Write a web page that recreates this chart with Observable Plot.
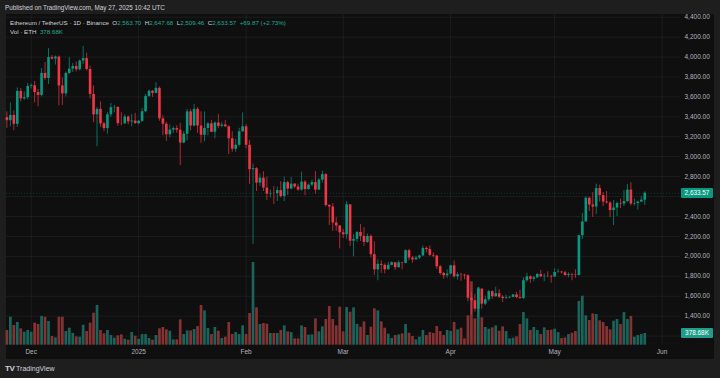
<!DOCTYPE html>
<html><head><meta charset="utf-8">
<script src="https://cdn.jsdelivr.net/npm/d3@7"></script>
<script src="https://cdn.jsdelivr.net/npm/@observablehq/plot@0.6"></script>
<style>
html,body{margin:0;padding:0;background:#1e1e1e;width:720px;height:378px;overflow:hidden;font-family:"Liberation Sans",Arial,sans-serif;}
#wrap{position:relative;width:720px;height:378px;}
#panel{position:absolute;left:6px;top:14px;width:708px;height:345px;background:#0f0f0f;}
#wrap svg{position:absolute;left:0;top:0;}
.t{position:absolute;white-space:nowrap;line-height:1;}
.hdr{left:5px;top:5px;font-size:6.3px;color:#d1d4dc;}
.leg{left:10px;font-size:6.2px;color:#d1d4dc;}
.v{color:#22ab94;}
.box{position:absolute;left:681px;width:32px;height:10px;line-height:10px;font-size:6.4px;color:#fff;text-align:center;border-radius:1px;}
.logo{left:5px;top:365px;font-size:7px;color:#d1d4dc;}
</style></head>
<body><div id="wrap"><div id="panel"></div></div>
<script>
// ETH/USDT daily, Binance, 2024-11-24 .. 2025-05-27
const startDate = "2024-11-24";
const open = [
 3392,3361,3414,3325,3655,3580,3592,
 3705,3712,3644,3615,3836,3785,3995,3980,4000,3710,3630,3836,3880,3905,3873,3960,3985,3875,3625,3420,3475,3330,3282,3420,3492,3495,3332,3330,3398,3350,3358,
 3332,3355,3452,3605,3657,3636,3686,3380,3326,3220,3268,3282,3266,3137,3226,3450,3308,3475,3308,3215,3283,3330,3245,3338,3305,3318,3300,3180,3075,3115,3250,
 3300,3115,2870,2880,2735,2785,2685,2625,2632,2630,2660,2600,2740,2675,2725,2695,2665,2745,2670,2715,2740,2665,2765,2820,2510,2495,2335,2305,
 2237,2217,2517,2152,2170,2240,2200,2140,2200,2017,1865,1920,1910,1865,1910,1935,1887,1935,1930,2057,1983,1965,1983,2004,2080,2068,2010,2003,1895,1828,1805,
 1822,1905,1795,1815,1812,1805,1580,1555,1470,1670,1520,1565,1645,1595,1625,1590,1577,1583,1588,1613,1587,1578,1756,1795,1770,1785,1818,1795,1800,1798,
 1793,1838,1842,1835,1808,1817,1812,1808,2207,2345,2583,2515,2495,2680,2610,2545,2535,2460,2485,2530,2525,2550,2665,2525,2530,2545,2563.70
];
const high = [
 3450,3540,3460,3690,3685,3650,3735,
 3730,3755,3675,3885,3945,4085,4015,4010,4010,3790,3850,3995,3935,3950,3970,4107,4040,3910,3710,3495,3550,3345,3445,3535,3515,3500,3440,3420,3410,3425,3435,
 3365,3485,3625,3670,3665,3745,3700,3410,3345,3320,3300,3310,3335,3250,3475,3475,3525,3495,3450,3450,3340,3365,3350,3425,3345,3365,3310,3250,3175,3285,3440,
 3320,3165,2925,2890,2825,2850,2795,2665,2700,2695,2750,2795,2755,2790,2730,2725,2845,2760,2725,2765,2850,2780,2855,2830,2520,2530,2390,2310,
 2270,2550,2520,2220,2250,2320,2290,2225,2215,2145,1965,1955,1925,1940,1945,1940,1955,1940,2065,2070,2000,2000,2010,2105,2095,2105,2035,2010,1910,1840,1865,
 1910,1955,1835,1830,1820,1815,1640,1620,1690,1675,1600,1660,1655,1690,1665,1605,1610,1600,1615,1640,1660,1785,1830,1805,1800,1830,1860,1825,1845,1810,
 1875,1870,1850,1850,1835,1830,1865,2210,2430,2600,2595,2640,2725,2715,2640,2650,2550,2560,2545,2575,2660,2720,2740,2575,2555,2600,2647.68
];
const low = [
 3285,3300,3260,3295,3550,3565,3570,
 3680,3540,3500,3600,3765,3725,3970,3920,3510,3515,3600,3825,3845,3850,3860,3925,3860,3580,3340,3100,3295,3250,3225,3395,3440,3305,3310,3325,3320,3300,3325,
 3320,3345,3440,3595,3595,3630,3355,3210,3155,3190,3235,3235,2910,3130,3160,3260,3300,3235,3135,3150,3210,3240,3180,3280,3290,3295,3020,3045,3045,3100,3245,
 3080,2720,2120,2650,2700,2650,2560,2585,2520,2550,2585,2550,2610,2670,2680,2655,2655,2610,2665,2700,2625,2660,2735,2495,2310,2250,2250,2075,
 2180,2170,2100,1995,2140,2150,2100,2130,1985,1810,1755,1830,1825,1865,1905,1860,1880,1865,1925,1955,1930,1960,1970,2000,2035,2000,1985,1870,1810,1770,1780,
 1815,1780,1760,1750,1765,1545,1410,1440,1385,1470,1505,1545,1570,1590,1580,1535,1565,1575,1585,1575,1570,1565,1740,1730,1745,1775,1785,1745,1785,1730,
 1790,1830,1825,1800,1785,1755,1780,1805,2170,2345,2450,2390,2420,2545,2500,2525,2390,2310,2400,2480,2500,2540,2505,2505,2465,2540,2509.46
];
const close = [
 3361,3414,3325,3655,3580,3592,3705,
 3712,3644,3615,3836,3785,3995,3980,4000,3710,3630,3836,3880,3905,3873,3960,3985,3875,3625,3420,3475,3330,3282,3420,3492,3495,3332,3330,3398,3350,3358,3332,
 3355,3452,3605,3657,3636,3686,3380,3326,3220,3268,3282,3266,3137,3226,3450,3308,3475,3308,3215,3283,3330,3245,3338,3305,3318,3300,3180,3075,3115,3250,3300,
 3115,2870,2880,2735,2785,2685,2625,2632,2630,2660,2600,2740,2675,2725,2695,2665,2745,2670,2715,2740,2665,2765,2820,2510,2495,2335,2305,2237,
 2217,2517,2152,2170,2240,2200,2140,2200,2017,1865,1920,1910,1865,1910,1935,1887,1935,1930,2057,1983,1965,1983,2004,2080,2068,2010,2003,1895,1828,1805,1822,
 1905,1795,1815,1812,1805,1580,1555,1470,1670,1520,1565,1645,1595,1625,1590,1577,1583,1588,1613,1587,1578,1756,1795,1770,1785,1818,1795,1800,1798,1793,
 1838,1842,1835,1808,1817,1812,1808,2207,2345,2583,2515,2495,2680,2610,2545,2535,2460,2485,2530,2525,2550,2665,2525,2530,2545,2563.70,2633.57
];
// volume, thousands of ETH
const volume = [
 475,906,637,734,529,421,475,
 421,712,669,928,906,766,281,237,906,906,442,550,378,270,259,647,442,712,1036,1284,475,367,475,313,227,302,334,194,162,410,291,
 194,345,345,216,162,313,529,572,496,453,173,173,820,345,464,464,507,604,1284,1111,540,345,572,453,216,259,734,345,410,345,626,
 345,1025,2676,1208,669,701,680,378,378,378,475,626,432,410,205,205,626,572,324,334,852,432,593,831,1252,831,626,1230,
 432,1219,1068,1208,669,583,755,313,583,1176,1111,755,550,356,216,313,334,367,669,388,281,173,259,475,313,410,378,604,442,313,475,
 442,734,496,550,205,950,2050,852,1856,885,572,518,561,626,453,593,442,205,227,270,669,1057,852,475,572,475,345,561,475,486,
 518,410,216,237,345,388,442,1413,1586,950,798,1014,993,788,734,604,496,777,831,669,1057,831,928,259,313,345,378.68
];
const priceTicks = [1200,1400,1600,1800,2000,2200,2400,2600,2800,3000,3200,3400,3600,3800,4000,4200,4400];
// labels hidden behind the price and volume boxes in the reference are left out
const priceLabels = [1400,1600,1800,2000,2200,2400,2800,3000,3200,3400,3600,3800,4000,4200,4400];
const monthTickDates = ["2024-12-01","2025-01-01","2025-02-01","2025-03-01","2025-04-01","2025-05-01","2025-06-01"];
const monthLabels = ["Dec","2025","Feb","Mar","Apr","May","Jun"];

const UP = "#089981", DOWN = "#f23645";
const VUP = "#1a645b", VDOWN = "#853232";
const DAY = 864e5;
const t0 = Date.parse(startDate + "T00:00:00Z");
const rows = close.map((c, i) => ({date: new Date(t0 + i * DAY), open: open[i], high: high[i], low: low[i], close: c, volume: volume[i]}));
const ups = rows.filter(d => d.close >= d.open), downs = rows.filter(d => d.close < d.open);
const monthTicks = monthTickDates.map(s => new Date(s + "T00:00:00Z"));
const xDomain = [new Date(t0 - 0.115 * DAY), new Date(t0 + 194.31 * DAY)];
const last = rows[rows.length - 1];

const common = {width: 720, height: 378, marginLeft: 6, marginRight: 40, marginTop: 14, marginBottom: 33.3,
  style: {background: "transparent", overflow: "visible", fontFamily: "Liberation Sans, Arial, sans-serif"}};
const xOpt = {type: "utc", domain: xDomain};
const yOpt = {type: "linear", domain: [1108.5, 4427.1]};

// layer 1: grid and axes
const base = Plot.plot({...common, x: xOpt, y: yOpt, marks: [
  Plot.gridY(priceTicks, {stroke: "#ffffff", strokeOpacity: 0.055}),
  Plot.gridX(monthTicks, {stroke: "#ffffff", strokeOpacity: 0.055}),
  Plot.axisY(priceLabels, {anchor: "right", tickSize: 0, tickPadding: 4, tickFormat: d3.format(",.2f"), color: "#b2b5be", fontSize: 6.5, label: null}),
  Plot.axisX(monthTicks, {anchor: "bottom", tickSize: 0, tickPadding: 4, tickFormat: (d, i) => monthLabels[i], color: "#b2b5be", fontSize: 6.5, label: null})
]});
// layer 2: volume
const vol = Plot.plot({...common, x: {...xOpt, axis: null}, y: {domain: [0, 10702], axis: null}, marks: [
  Plot.ruleX(ups, {x: "date", y: "volume", stroke: VUP, strokeWidth: 2.7}),
  Plot.ruleX(downs, {x: "date", y: "volume", stroke: VDOWN, strokeWidth: 2.7})
]});
// layer 3: candles
const candles = Plot.plot({...common, x: {...xOpt, axis: null}, y: {...yOpt, axis: null}, marks: [
  Plot.ruleY([last.close], {stroke: UP, strokeOpacity: 0.3, strokeDasharray: "1,2"}),
  Plot.ruleX(ups, {x: "date", y1: "low", y2: "high", stroke: UP, strokeWidth: 1, strokeOpacity: 0.7}),
  Plot.ruleX(downs, {x: "date", y1: "low", y2: "high", stroke: DOWN, strokeWidth: 1, strokeOpacity: 0.7}),
  Plot.ruleX(ups, {x: "date", y1: "open", y2: "close", stroke: UP, strokeWidth: 2.6}),
  Plot.ruleX(downs, {x: "date", y1: "open", y2: "close", stroke: DOWN, strokeWidth: 2.6})
]});
const wrap = document.getElementById("wrap");
wrap.append(base, vol, candles);

const f2 = d3.format(",.2f");
function addText(cls, html, top) {
  const d = document.createElement("div");
  d.className = "t " + cls; d.innerHTML = html;
  if (top != null) d.style.top = top + "px";
  wrap.append(d); return d;
}
addText("hdr", "Published on TradingView.com, May 27, 2025 10:42 UTC");
const chg = last.close - last.open;
addText("leg", `Ethereum / TetherUS · 1D · Binance&nbsp; O<span class="v">${f2(last.open)}</span>&nbsp; H<span class="v">${f2(last.high)}</span>&nbsp; L<span class="v">${f2(last.low)}</span>&nbsp; C<span class="v">${f2(last.close)}</span>&nbsp; <span class="v">+${f2(chg)} (+${(chg / last.open * 100).toFixed(2)}%)</span>`, 19.5);
addText("leg", `Vol · ETH&nbsp; <span class="v">${last.volume.toFixed(2)}K</span>`, 28.5);
addText("logo", `<b style="font-size:8px;letter-spacing:-0.5px">TV</b> TradingView`);

const pb = document.createElement("div");
pb.className = "box"; pb.style.background = UP;
pb.style.top = (candles.scale("y").apply(last.close) - 5) + "px";
pb.textContent = f2(last.close); wrap.append(pb);
const vb = document.createElement("div");
vb.className = "box"; vb.style.background = "#1f9c8a";
vb.style.top = (vol.scale("y").apply(last.volume) - 5) + "px";
vb.textContent = last.volume.toFixed(2) + "K"; wrap.append(vb);
</script></body></html>
